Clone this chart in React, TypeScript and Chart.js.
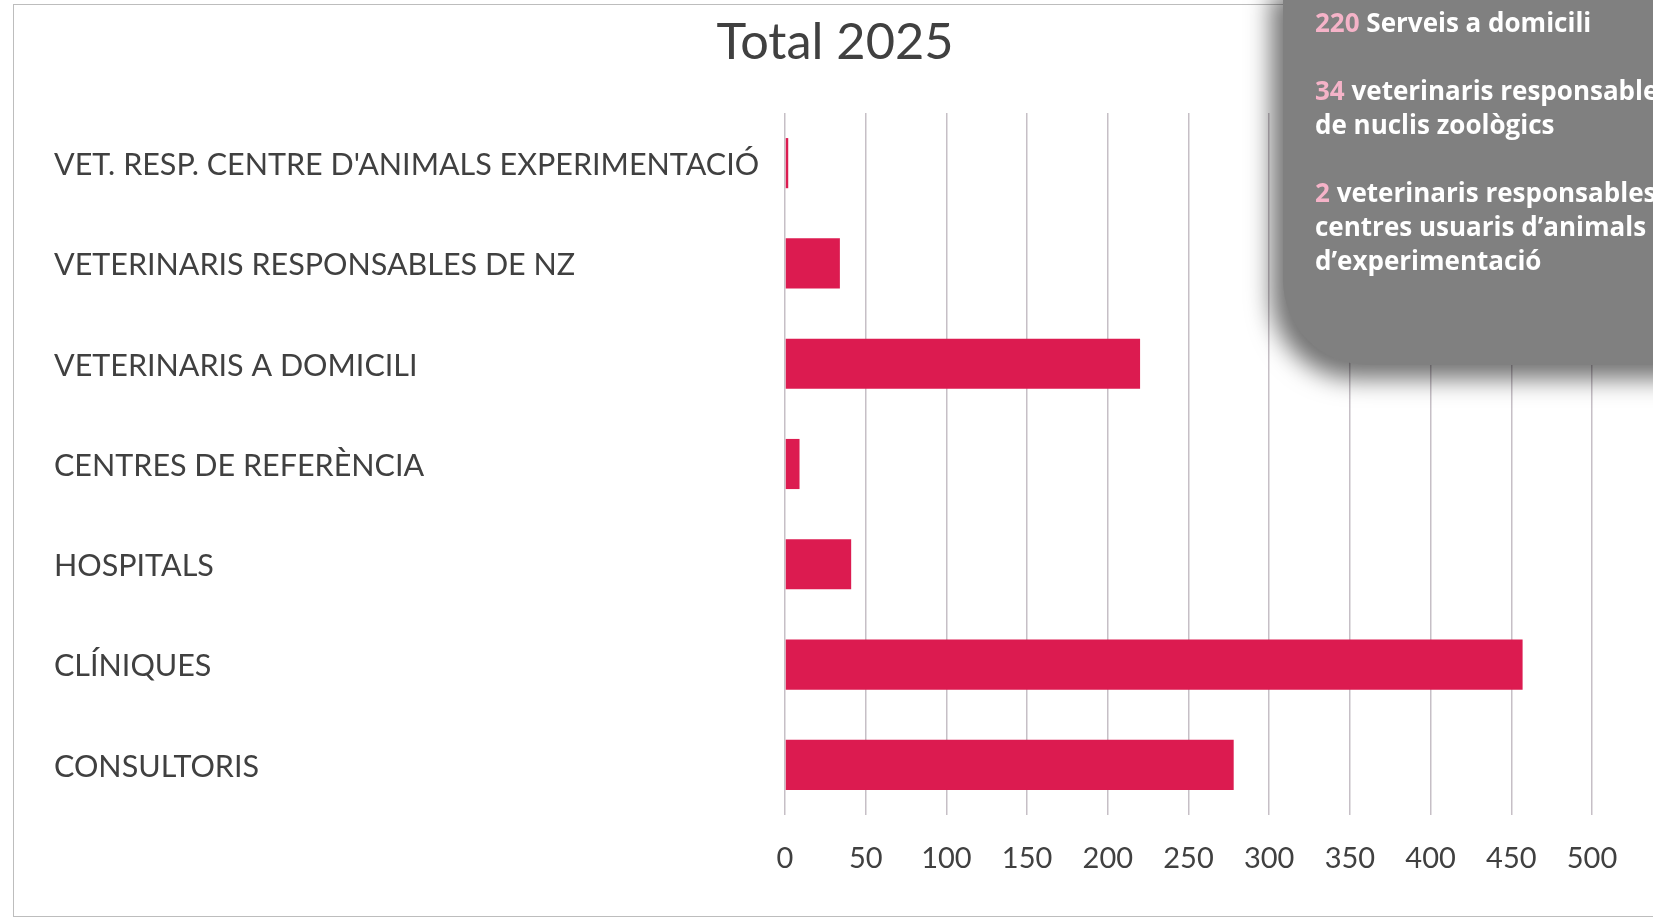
import React, { useEffect, useRef } from "react";
import { Chart, registerables } from "chart.js";

Chart.register(...registerables);

const categories: string[] = [
  "VET. RESP. CENTRE D'ANIMALS EXPERIMENTACIÓ",
  "VETERINARIS RESPONSABLES DE NZ",
  "VETERINARIS A DOMICILI",
  "CENTRES DE REFERÈNCIA",
  "HOSPITALS",
  "CLÍNIQUES",
  "CONSULTORIS",
];
const values: number[] = [2, 34, 220, 9, 41, 457, 278];
const xTicks: number[] = [0, 50, 100, 150, 200, 250, 300, 350, 400, 450, 500];
const titleText = "Total 2025";

const noteLines: { num: string; text: string }[][] = [
  [{ num: "220", text: " Serveis a domicili" }],
  [],
  [{ num: "34", text: " veterinaris responsables" }],
  [{ num: "", text: "de nuclis zoològics" }],
  [],
  [{ num: "2", text: " veterinaris responsables" }],
  [{ num: "", text: "centres usuaris d’animals" }],
  [{ num: "", text: "d’experimentació" }],
];

const FONT = "Lato, 'Open Sans', sans-serif";
const NOTE_FONT = "'Open Sans', Lato, sans-serif";

export default function App() {
  const canvasRef = useRef<HTMLCanvasElement | null>(null);

  useEffect(() => {
    if (!canvasRef.current) return;
    const titlePlugin = {
      id: "customTitle",
      afterDraw(chart: any) {
        const ctx = chart.ctx;
        ctx.save();
        ctx.font = `50.5px ${FONT}`;
        ctx.fillStyle = "#404040";
        ctx.textAlign = "center";
        ctx.textBaseline = "alphabetic";
        ctx.fillText(titleText, 835, 59);
        ctx.restore();
      },
    };
    const chart = new Chart(canvasRef.current, {
      type: "bar",
      data: {
        labels: categories,
        datasets: [
          {
            data: values,
            backgroundColor: "#dc1b50",
            borderWidth: 0,
            barPercentage: 0.5,
            categoryPercentage: 1,
          },
        ],
      },
      options: {
        indexAxis: "y",
        animation: false,
        responsive: false,
        maintainAspectRatio: false,
        layout: { padding: { left: 54, right: 61, top: 113, bottom: 0 } },
        plugins: {
          legend: { display: false },
          title: { display: false },
          tooltip: { enabled: false },
        },
        scales: {
          x: {
            min: 0,
            max: 500,
            afterBuildTicks: (axis: any) => {
              axis.ticks = xTicks.map((v) => ({ value: v }));
            },
            afterFit: (axis: any) => {
              axis.height = 105;
            },
            grid: {
              display: true,
              color: "#c6bfc6",
              lineWidth: 1.5,
              drawTicks: false,
              tickLength: 0,
            },
            border: { display: false },
            ticks: {
              padding: 26,
              color: "#404040",
              font: { family: FONT, size: 29 },
              maxRotation: 0,
              autoSkip: false,
            },
          },
          y: {
            afterFit: (axis: any) => {
              axis.width = 731;
            },
            grid: { display: false, drawTicks: false },
            border: { display: false },
            ticks: {
              crossAlign: "far",
              labelOffset: 2,
              color: "#404040",
              font: { family: FONT, size: 30.5 },
              autoSkip: false,
            },
          },
        },
      },
      plugins: [titlePlugin],
    } as any);
    return () => chart.destroy();
  }, []);

  return (
    <div
      style={{
        position: "absolute",
        left: 0,
        top: 0,
        width: 1653,
        height: 920,
        overflow: "hidden",
        background: "#ffffff",
      }}
    >
      <div
        style={{
          position: "absolute",
          left: 13,
          top: 4,
          width: 1700,
          height: 911,
          border: "1.5px solid #bdbdbd",
        }}
      />
      <canvas
        ref={canvasRef}
        width={1653}
        height={920}
        style={{ position: "absolute", left: 0, top: 0, width: 1653, height: 920 }}
      />
      <div
        style={{
          position: "absolute",
          left: 1283,
          top: -20,
          width: 420,
          height: 385,
          background: "#808080",
          borderBottomLeftRadius: 85,
          boxShadow: "-12px 14px 24px rgba(0,0,0,0.55)",
        }}
      >
        <div
          style={{
            position: "absolute",
            left: 32,
            top: 25,
            fontFamily: NOTE_FONT,
            fontWeight: 700,
            fontSize: 26,
            lineHeight: "34px",
            color: "#ffffff",
            whiteSpace: "nowrap",
          }}
        >
          {noteLines.map((line, i) => (
            <div key={i} style={{ height: 34 }}>
              {line.map((seg, j) => (
                <span key={j}>
                  {seg.num && <span style={{ color: "#f5b3c8" }}>{seg.num}</span>}
                  {seg.text}
                </span>
              ))}
            </div>
          ))}
        </div>
      </div>
    </div>
  );
}
